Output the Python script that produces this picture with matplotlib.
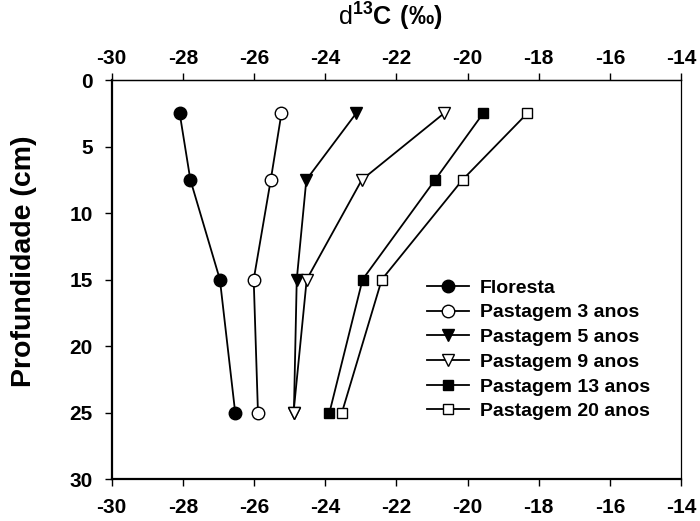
import matplotlib
matplotlib.use("Agg")
import matplotlib.pyplot as plt

plt.rcParams['font.family'] = ['Liberation Sans', 'DejaVu Sans']
plt.rcParams['font.weight'] = 'bold'
plt.rcParams['axes.unicode_minus'] = False
plt.rcParams['mathtext.fontset'] = 'custom'
plt.rcParams['mathtext.rm'] = 'Liberation Sans:weight=normal'
plt.rcParams['mathtext.bf'] = 'Liberation Sans:weight=bold'

# soil depth (cm) of each sample layer
depth = [2.5, 7.5, 15, 25]

# delta 13C (per mil) by land use
floresta = [-28.09, -27.79, -26.96, -26.53]
pastagem_3 = [-25.23, -25.53, -26.01, -25.89]
pastagem_5 = [-23.13, -24.53, -24.80, -24.88]
pastagem_9 = [-20.66, -22.97, -24.52, -24.89]
pastagem_13 = [-19.56, -20.91, -22.95, -23.88]
pastagem_20 = [-18.32, -20.14, -22.41, -23.53]

series = [
    ('Floresta', floresta, 'o', 'black'),
    ('Pastagem 3 anos', pastagem_3, 'o', 'white'),
    ('Pastagem 5 anos', pastagem_5, 'v', 'black'),
    ('Pastagem 9 anos', pastagem_9, 'v', 'white'),
    ('Pastagem 13 anos', pastagem_13, 's', 'black'),
    ('Pastagem 20 anos', pastagem_20, 's', 'white'),
]

x_ticks = list(range(-30, -13, 2))
y_ticks = list(range(0, 31, 5))

fig = plt.figure(figsize=(7.0, 5.21), dpi=100)
ax = fig.add_axes([0.1596, 0.0806, 0.8133, 0.7658])

for name, values, marker, face in series:
    size = 7.5 if marker == 's' else 9
    ax.plot(values, depth, color='black', linewidth=1.3, marker=marker,
            markersize=size, markerfacecolor=face, markeredgecolor='black',
            markeredgewidth=1.0, label=name)

ax.set_xlim(-30, -14)
ax.set_ylim(30, 0)
ax.set_xticks(x_ticks)
ax.set_yticks(y_ticks)

ax.tick_params(axis='x', direction='out', length=5, width=1,
               labelsize=15, pad=8.5)
ax.tick_params(axis='y', direction='out', length=5, width=1,
               labelsize=15, pad=8.5)

# top axis repeats the d13C scale
top = ax.secondary_xaxis('top')
top.set_xticks(x_ticks)
top.tick_params(direction='out', length=5, width=1, labelsize=15, pad=4)
top.spines['top'].set_linewidth(0.9)

for label in (ax.get_xticklabels() + ax.get_yticklabels()
              + top.get_xticklabels()):
    label.set_fontweight('bold')

ax.spines['left'].set_linewidth(1.6)
ax.spines['bottom'].set_linewidth(1.6)
ax.spines['top'].set_linewidth(0.9)
ax.spines['right'].set_linewidth(0.9)

ax.set_ylabel('Profundidade (cm)', fontsize=20.5, fontweight='bold')
ax.yaxis.set_label_coords(-0.131, 0.546)

fig.text(0.557, 0.951, r'$\mathrm{d}^{\mathbf{13}}\mathbf{C\ (‰)}$',
         fontsize=18.2, ha='center', va='baseline')

ax.legend(loc='upper left', bbox_to_anchor=(0.553, 0.501), frameon=False,
          handlelength=2.2, handletextpad=0.55,
          labelspacing=0.365, borderpad=0, borderaxespad=0,
          prop={'weight': 'bold', 'size': 14})

fig.savefig('out.png', dpi=100)
